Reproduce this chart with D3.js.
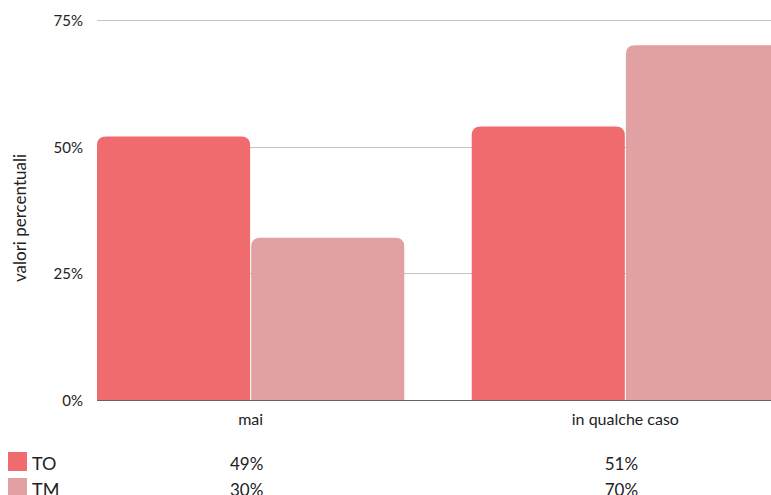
<!DOCTYPE html>
<html>
<head>
<meta charset="utf-8">
<script src="https://cdn.jsdelivr.net/npm/d3@7"></script>
<style>
  body { margin: 0; background: #fff; }
  svg { display: block; font-family: Lato, "Noto Sans", sans-serif; }
</style>
</head>
<body>
<div id="chart"></div>
<script>
// dati
const categories = ['mai', 'in qualche caso'];
const series = ['TO', 'TM'];
const valuesTO = [52, 54];   // altezza barre
const valuesTM = [32, 70];
const tableTO = ['49%', '51%']; // righe della tabella sotto
const tableTM = ['30%', '70%'];
const yTicks = [0, 25, 50, 75];

const colors = { TO: '#ef6b6d', TM: '#e1a0a1' };

const width = 771;
const height = 495;
const margin = { left: 97, top: 20, bottom: 95 };

const svg = d3.select('#chart').append('svg')
  .attr('width', width)
  .attr('height', height);

const x = d3.scaleBand()
  .domain(categories)
  .range([margin.left, 779])
  .paddingInner(0.18)
  .paddingOuter(0);

const xSub = d3.scaleBand()
  .domain(series)
  .range([0, x.bandwidth()])
  .paddingInner(0.007);

const y = d3.scaleLinear()
  .domain([0, 75])
  .range([height - margin.bottom, margin.top]);

// griglia
svg.append('g')
  .selectAll('line')
  .data(yTicks.filter((d) => d > 0))
  .enter()
  .append('line')
  .attr('x1', margin.left)
  .attr('x2', width)
  .attr('y1', (d) => Math.round(y(d)) + 0.5)
  .attr('y2', (d) => Math.round(y(d)) + 0.5)
  .attr('stroke', '#c4c4c4')
  .attr('stroke-width', 1);

// etichette asse y
svg.append('g')
  .selectAll('text')
  .data(yTicks)
  .enter()
  .append('text')
  .attr('x', 83)
  .attr('y', (d) => y(d) + 6)
  .attr('text-anchor', 'end')
  .attr('font-size', 15)
  .attr('fill', '#222')
  .text((d) => d + '%');

svg.append('text')
  .attr('transform', 'translate(26,218) rotate(-90)')
  .attr('text-anchor', 'middle')
  .attr('font-size', 17)
  .attr('fill', '#222')
  .text('valori percentuali');

// barre con angoli superiori arrotondati
function topRounded(x0, y0, w, h, r) {
  r = Math.min(r, h, w / 2);
  return `M${x0},${y0 + h}V${y0 + r}Q${x0},${y0} ${x0 + r},${y0}` +
    `H${x0 + w - r}Q${x0 + w},${y0} ${x0 + w},${y0 + r}V${y0 + h}Z`;
}

const barData = [];
categories.forEach((c, i) => {
  barData.push({ cat: c, s: 'TO', v: valuesTO[i] });
  barData.push({ cat: c, s: 'TM', v: valuesTM[i] });
});

svg.append('g')
  .selectAll('path')
  .data(barData)
  .enter()
  .append('path')
  .attr('fill', (d) => colors[d.s])
  .attr('d', (d) => {
    const bx = x(d.cat) + xSub(d.s);
    const by = y(d.v);
    return topRounded(bx, by, xSub.bandwidth(), y(0) - by, 9);
  });

// asse x
svg.append('line')
  .attr('x1', margin.left)
  .attr('x2', width)
  .attr('y1', y(0) + 0.5)
  .attr('y2', y(0) + 0.5)
  .attr('stroke', '#666')
  .attr('stroke-width', 1);

svg.append('g')
  .selectAll('text')
  .data(categories)
  .enter()
  .append('text')
  .attr('x', (d) => x(d) + x.bandwidth() / 2)
  .attr('y', 425)
  .attr('text-anchor', 'middle')
  .attr('font-size', 16)
  .attr('fill', '#222')
  .text((d) => d);

// tabella dati
const rows = [
  { s: 'TO', vals: tableTO, yy: 470 },
  { s: 'TM', vals: tableTM, yy: 496 }
];

rows.forEach((row) => {
  svg.append('rect')
    .attr('x', 8)
    .attr('y', row.yy - 18)
    .attr('width', 19)
    .attr('height', 19)
    .attr('fill', colors[row.s]);
  svg.append('text')
    .attr('x', 32)
    .attr('y', row.yy)
    .attr('font-size', 18)
    .attr('fill', '#222')
    .text(row.s);
  svg.append('g')
    .selectAll('text')
    .data(row.vals)
    .enter()
    .append('text')
    .attr('x', (d, i) => x(categories[i]) + x.bandwidth() / 2 - 4)
    .attr('y', row.yy)
    .attr('text-anchor', 'middle')
    .attr('font-size', 17)
    .attr('fill', '#222')
    .text((d) => d);
});
</script>
</body>
</html>
